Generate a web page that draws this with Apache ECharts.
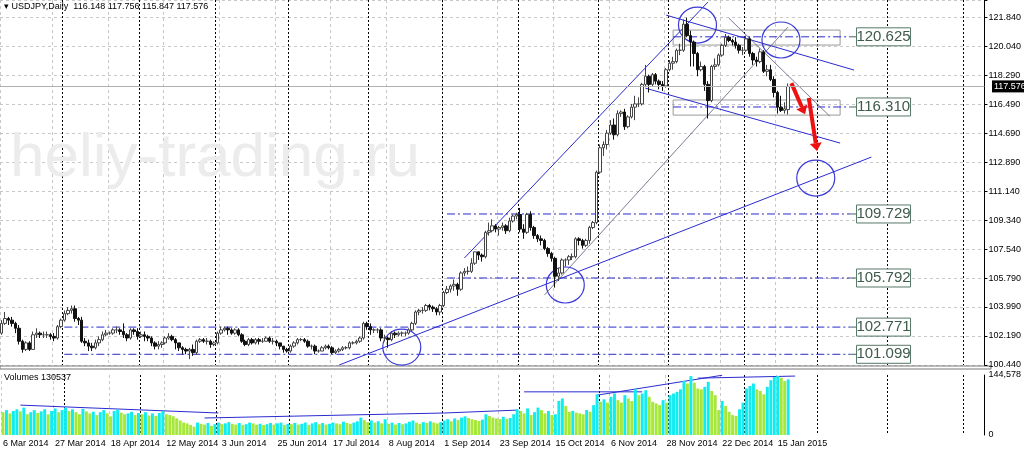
<!DOCTYPE html>
<html>
<head>
<meta charset="utf-8">
<script src="https://cdn.jsdelivr.net/npm/echarts@6/dist/echarts.min.js"></script>
<style>html,body{margin:0;padding:0;background:#fff}#main{width:1024px;height:453px}</style>
</head>
<body>
<div id="main"></div>
<script>
// OHLC rows [open, close, low, high], daily from 6 Mar 2014 to 20 Jan 2015
var candles = [
 [102.4,103.0,102.3,103.2],[103.0,103.3,102.9,103.7],
 [103.3,103.2,102.9,103.4],[103.2,103.0,102.8,103.4],[103.0,102.7,102.4,103.1],[102.7,101.9,101.7,102.9],[101.9,101.4,101.2,102.0],
 [101.4,101.8,101.3,101.9],[101.8,101.4,101.3,101.9],[101.4,102.3,101.4,102.5],[102.3,102.4,102.1,102.7],[102.4,102.3,102.1,102.5],
 [102.3,102.3,102.1,102.5],[102.3,102.3,102.1,102.5],[102.3,102.2,102.0,102.4],[102.2,102.1,101.9,102.4],[102.1,102.8,102.0,102.9],
 [102.8,103.2,102.7,103.3],
 [103.2,103.6,103.1,103.8],[103.6,103.8,103.5,104.0],[103.8,103.9,103.6,104.1],[103.9,103.3,103.1,104.1],
 [103.3,103.2,102.9,103.4],[103.2,101.9,101.8,103.4],[101.9,101.8,101.6,102.1],[101.8,101.6,101.3,102.0],[101.6,101.5,101.3,101.8],
 [101.5,101.8,101.4,102.0],[101.8,102.0,101.6,102.2],[102.0,102.3,101.9,102.5],[102.3,102.4,102.2,102.6],[102.4,102.4,102.3,102.5],
 [102.4,102.6,102.3,102.7],[102.6,102.6,102.4,102.8],[102.6,102.5,102.3,102.7],[102.5,102.3,102.1,103.0],[102.3,102.1,101.9,102.4],
 [102.1,102.6,102.0,102.7],[102.6,102.5,102.3,102.7],[102.5,102.2,102.0,102.7],
 [102.2,102.3,102.1,102.5],[102.3,102.2,101.9,102.5],
 [102.2,102.1,101.9,102.3],[102.1,101.8,101.6,102.2],[101.8,101.6,101.4,101.9],[101.6,101.7,101.4,101.9],[101.7,101.8,101.5,101.9],
 [101.8,102.1,101.7,102.2],[102.1,102.2,102.0,102.4],[102.2,102.0,101.9,102.3],[102.0,101.8,101.4,102.1],[101.8,101.5,101.3,101.8],
 [101.5,101.4,101.1,101.6],[101.4,101.3,101.1,101.5],[101.3,101.4,100.8,101.5],[101.4,101.2,101.0,101.7],[101.2,101.9,101.1,102.0],
 [101.9,102.0,101.8,102.1],[102.0,101.9,101.8,102.1],[101.9,101.9,101.7,102.1],[101.9,101.7,101.5,102.0],[101.7,101.8,101.6,101.9],
 [101.8,102.4,101.7,102.5],[102.4,102.6,102.3,102.8],[102.6,102.7,102.5,102.8],[102.7,102.6,102.3,102.8],[102.6,102.4,102.3,102.7],
 [102.4,102.6,102.3,102.7],[102.6,102.3,102.2,102.7],[102.3,101.9,101.8,102.4],[101.9,101.7,101.6,102.0],[101.7,102.0,101.6,102.1],
 [102.0,101.8,101.7,102.1],[101.8,102.0,101.7,102.1],[102.0,101.9,101.7,102.1],[101.9,101.9,101.8,102.1],[101.9,102.1,101.9,102.2],
 [102.1,101.9,101.8,102.2],[101.9,101.9,101.7,102.1],[101.9,101.8,101.6,102.0],[101.8,101.6,101.4,101.8],[101.6,101.4,101.2,101.6],
 [101.4,101.3,101.2,101.5],
 [101.3,101.6,101.2,101.7],[101.6,101.8,101.5,101.9],[101.8,102.0,101.7,102.1],[102.0,102.0,101.9,102.1],
 [102.0,101.9,101.8,102.1],[101.9,101.6,101.5,102.0],[101.6,101.6,101.4,101.7],[101.6,101.3,101.1,101.7],[101.3,101.3,101.2,101.4],
 [101.3,101.5,101.3,101.6],[101.5,101.6,101.4,101.7],[101.6,101.5,101.4,101.7],[101.5,101.2,101.1,101.6],[101.2,101.3,101.1,101.4],
 [101.3,101.4,101.2,101.5],[101.4,101.5,101.3,101.6],[101.5,101.5,101.4,101.6],[101.5,101.8,101.4,101.9],[101.8,101.8,101.7,101.9],
 [101.8,101.9,101.7,102.0],[101.9,102.1,101.8,102.2],[102.1,103.0,102.0,103.1],[103.0,102.8,102.6,103.1],
 [102.8,102.6,102.3,103.0],
 [102.6,102.6,102.4,102.7],[102.6,102.6,102.4,102.7],[102.6,102.1,101.9,102.7],[102.1,102.1,101.9,102.3],[102.1,102.0,101.5,102.2],
 [102.0,102.4,101.9,102.5],[102.4,102.3,102.1,102.5],[102.3,102.4,102.2,102.5],[102.4,102.4,102.2,102.5],[102.4,102.4,102.2,102.5],
 [102.4,102.6,102.3,102.7],[102.6,103.0,102.5,103.1],[103.0,103.7,102.9,103.8],[103.7,103.8,103.5,103.9],[103.8,103.8,103.6,104.0],
 [103.8,104.1,103.7,104.2],[104.1,104.0,103.8,104.2],[104.0,103.9,103.7,104.1],[103.9,103.7,103.5,104.0],[103.7,104.1,103.5,104.2],
 [104.1,104.9,104.0,105.0],[104.9,105.1,104.8,105.3],[105.1,105.3,104.9,105.4],[105.3,105.4,105.0,105.7],[105.4,105.1,104.7,105.5],
 [105.1,106.1,105.0,106.2],[106.1,106.2,105.9,106.4],[106.2,106.2,106.0,106.5],[106.2,106.7,106.1,107.0],[106.7,107.4,106.6,107.4],
 [107.4,107.2,106.9,107.4],[107.2,107.1,106.8,107.3],[107.1,108.6,107.0,108.7],[108.6,108.7,108.4,109.2],[108.7,109.0,108.6,109.4],
 [109.0,108.8,108.6,109.1],[108.8,108.9,108.4,109.0],[108.9,109.0,108.7,109.2],[109.0,108.7,108.5,109.1],[108.7,109.3,108.6,109.5],
 [109.3,109.6,109.2,109.7],[109.6,109.7,109.4,109.8],
 [109.7,108.8,108.6,110.1],[108.8,108.6,108.2,109.1],[108.6,109.7,108.5,109.8],
 [109.7,108.9,108.7,109.9],[108.9,108.4,108.2,109.0],[108.4,108.2,108.0,108.5],[108.2,108.1,107.8,108.4],[108.1,107.6,107.5,108.2],
 [107.6,107.3,107.1,107.7],[107.3,107.0,106.8,107.4],[107.0,105.9,105.2,107.1],[105.9,106.1,105.6,106.4],[106.1,106.9,106.0,107.0],
 [106.9,106.9,106.5,107.0],[106.9,107.1,106.6,107.2],[107.1,107.1,106.9,107.3],[107.1,108.2,107.0,108.3],[108.2,108.1,107.8,108.3],
 [108.1,107.8,107.6,108.2],[107.8,108.1,107.7,108.2],[108.1,108.9,107.9,109.0],[108.9,109.2,108.8,109.3],[109.2,112.3,109.1,112.4],
 [112.3,113.8,112.2,114.0],[113.8,114.0,113.3,114.2],[114.0,114.7,113.7,114.9],[114.7,115.2,114.6,115.5],[115.2,114.6,114.3,115.6],
 [114.6,115.9,114.5,116.1],[115.9,116.0,115.7,116.1],[116.0,115.1,114.9,116.2],[115.1,115.7,115.0,115.8],[115.7,116.3,115.6,116.5],
 [116.3,116.5,115.5,117.0],[116.5,116.5,116.3,116.9],[116.5,117.7,116.4,117.8],[117.7,118.2,117.6,118.9],[118.2,117.7,117.2,118.3],
 [117.7,118.3,117.6,118.4],[118.3,117.9,117.7,118.4],[117.9,117.7,117.4,118.0],[117.7,117.6,117.3,117.9],[117.6,118.6,117.5,118.7],
 [118.6,119.0,118.5,119.2],[119.0,119.1,118.6,119.4],[119.1,119.8,119.0,119.9],[119.8,119.8,119.5,120.2],[119.8,121.4,119.7,121.7],
 [121.4,120.7,120.6,121.8],[120.7,120.3,118.8,121.0],[120.3,119.6,118.8,120.4],[119.6,118.6,118.2,119.7],[118.6,118.8,118.5,119.1],
 [118.8,117.7,117.3,118.9],[117.7,116.7,115.6,117.9],[116.7,118.8,116.6,118.9],[118.8,118.9,118.6,119.3],[118.9,119.5,118.8,119.6],
 [119.5,120.1,119.4,120.2],[120.1,120.6,120.0,120.8],[120.6,120.4,120.3,120.7],[120.4,120.3,120.1,120.5],
 [120.3,120.1,119.9,120.6],[120.1,119.8,119.6,120.2],[119.8,119.8,119.5,120.0],[119.8,120.5,119.7,120.7],
 [120.5,119.6,119.4,120.6],[119.6,119.2,118.9,119.7],[119.2,119.1,118.8,119.4],[119.1,119.7,119.0,119.9],[119.7,118.5,118.4,119.8],
 [118.5,118.6,118.2,118.9],[118.6,118.0,117.9,118.9],[118.0,117.2,116.9,118.2],[117.2,116.3,115.9,117.3],[116.3,116.1,116.0,117.0],
 [116.1,116.2,115.9,116.6],[116.148,117.576,115.847,117.756]
];

// daily tick volumes, in thousands
var volumes = [
 55,60,52,58,62,57,66,50,55,60,53,57,62,50,58,64,55,60,
 66,58,62,55,50,63,57,52,56,48,55,60,52,45,58,61,54,50,52,56,48,53,
 50,55,47,52,46,53,58,50,48,45,40,35,30,28,24,20,30,27,25,29,22,26,
 30,26,28,31,27,25,29,24,26,30,28,25,27,24,26,29,25,28,30,24,27,
 26,29,25,27,30,24,28,31,26,29,25,27,30,28,26,32,29,27,30,33,42,36,31,
 35,30,33,28,38,27,30,25,29,26,28,32,35,30,27,31,29,33,30,28,31,
 35,38,33,40,36,42,45,41,38,36,34,37,50,46,42,40,38,44,39,41,50,62,
 58,52,64,48,55,66,60,52,58,48,50,82,88,70,56,58,54,52,50,60,56,72,98,
 80,86,78,92,100,84,78,96,88,82,110,96,100,108,92,80,76,72,84,78,
 96,100,104,110,130,124,142,126,112,110,116,128,106,96,60,82,70,56,48,46,62,78,
 112,118,124,110,106,98,116,132,140,142,138,130,134
];

var priceTicks = ['100.440','102.190','103.990','105.790','107.540','109.340','111.140','112.890','114.690','116.490','118.290','120.040','121.840'];
var dateLabels = ['6 Mar 2014','27 Mar 2014','18 Apr 2014','12 May 2014','3 Jun 2014','25 Jun 2014','17 Jul 2014','8 Aug 2014',
 '1 Sep 2014','23 Sep 2014','15 Oct 2014','6 Nov 2014','28 Nov 2014','22 Dec 2014','15 Jan 2015'];
var levels = [120.625, 116.310, 109.729, 105.792, 102.771, 101.099];
var levelStart = [193, 193, 128, 128, 18.4, 18.4];
var lastPrice = 117.576;

// trend lines [[i, price], [i, price]]
var trendLines = [
 [[96.6,100.44],[250.4,113.23]],
 [[132.9,107.02],[203.2,122.76]],
 [[185.2,117.47],[240.9,114.09]],
 [[190.9,121.96],[245.2,118.58]]
];
var thinLines = [
 [[155.8,104.74],[225.8,121.22]],
 [[208.9,121.78],[238.1,115.75]]
];
var circles = [[199.5,121.35],[223.8,120.43],[234.4,111.94],[161.8,105.36],[114.6,101.54]];
var arrows = [[[226.6,117.78],[229.5,116.31]],[[231.5,116.86],[234.4,114.09]]];
var volLines = [
 [[5.2,72],[62.4,53]],[[58,41],[127.2,53]],[[127.2,53],[148.1,60]],
 [[150,104],[183.8,104]],[[171,96],[207.2,144]],[[199.5,137],[227.5,142]]
];

var MON = ['Jan','Feb','Mar','Apr','May','Jun','Jul','Aug','Sep','Oct','Nov','Dec'];
var dates = [], monthStart = {};
var d = new Date(Date.UTC(2014, 2, 6)), prevMonth = 2;
while (dates.length < 283) {
  var wd = d.getUTCDay(), m = d.getUTCMonth(), dd = d.getUTCDate();
  var holiday = (m === 11 && dd === 25) || (m === 0 && dd === 1);
  if (wd !== 0 && wd !== 6 && !holiday) {
    if (m !== prevMonth) { monthStart[dates.length] = true; prevMonth = m; }
    dates.push(dd + ' ' + MON[m] + ' ' + d.getUTCFullYear());
  }
  d = new Date(d.getTime() + 86400000);
}
var isLabel = function(idx){ return dateLabels.indexOf(dates[idx]) >= 0; };
var isMonth = function(idx){ return !!monthStart[idx]; };

var volData = volumes.map(function(v, i){
  return {value: v * 1000, itemStyle: {color: (i > 0 && v > volumes[i-1]) ? '#10ecf0' : '#a6e83a'}};
});

var font = 'Liberation Sans';
var chart = echarts.init(document.getElementById('main'));
var xBase = {type: 'category', data: dates, boundaryGap: true, axisLine: {show: false}, axisTick: {show: false}};
chart.setOption({
  animation: false,
  grid: [
    {left: 0, right: 33, top: 0, height: 365},
    {left: 0, right: 33, top: 375, height: 60}
  ],
  xAxis: [
    Object.assign({}, xBase, {gridIndex: 0, axisLabel: {show: false},
      splitLine: {show: true, interval: function(i){ return isLabel(i); }, lineStyle: {color: '#c8c8c8', type: [3, 3]}}}),
    Object.assign({}, xBase, {gridIndex: 0, axisLabel: {show: false},
      splitLine: {show: true, interval: function(i){ return isMonth(i); }, lineStyle: {color: '#000', type: [2, 2]}}}),
    Object.assign({}, xBase, {gridIndex: 1,
      axisLabel: {show: true, interval: function(i){ return isLabel(i); }, align: 'left', margin: 4,
        fontSize: 9, color: '#000', fontFamily: font},
      splitLine: {show: true, interval: function(i){ return isLabel(i); }, lineStyle: {color: '#c8c8c8', type: [3, 3]}}}),
    Object.assign({}, xBase, {gridIndex: 1, axisLabel: {show: false},
      splitLine: {show: true, interval: function(i){ return isMonth(i); }, lineStyle: {color: '#000', type: [2, 2]}}})
  ],
  yAxis: [
    {type: 'value', gridIndex: 0, position: 'right', min: 100.44, max: 122.89, interval: 1.78333,
      axisLine: {show: true, lineStyle: {color: '#000'}}, axisTick: {show: true, length: 3, lineStyle: {color: '#000'}},
      axisLabel: {fontSize: 9, color: '#000', margin: 4, fontFamily: font, formatter: function(v){
        var k = Math.round((v - 100.44) / 1.78333);
        return (Math.abs(v - 100.44 - k * 1.78333) < 0.05 && priceTicks[k]) ? priceTicks[k] : '';
      }},
      splitLine: {show: true, lineStyle: {color: '#c8c8c8', type: [3, 3]}}},
    {type: 'value', gridIndex: 1, position: 'right', min: 0, max: 144578, interval: 144578,
      axisLine: {show: true, lineStyle: {color: '#000'}}, axisTick: {show: false},
      axisLabel: {fontSize: 9, color: '#000', margin: 4, fontFamily: font},
      splitLine: {show: false}}
  ],
  series: [
    {type: 'candlestick', xAxisIndex: 0, yAxisIndex: 0, data: candles, barWidth: 3,
      itemStyle: {color: '#fff', color0: '#111', borderColor: '#444', borderColor0: '#111', borderWidth: 1},
      markLine: {silent: true, symbol: 'none', label: {show: false},
        data: [{yAxis: lastPrice, lineStyle: {color: '#b0b0b0', type: 'solid', width: 1}}]}},
    {type: 'bar', xAxisIndex: 2, yAxisIndex: 1, data: volData, barCategoryGap: '15%'}
  ]
});

// annotations drawn through the axes' own conversion
var toPx = function(p){ return chart.convertToPixel({xAxisIndex: 0, yAxisIndex: 0}, p); };
var toVol = function(p){ return chart.convertToPixel({xAxisIndex: 2, yAxisIndex: 1}, [p[0], p[1] * 1000]); };
var g = [];
g.push({type: 'text', left: 10, top: 128, z: 0, style: {text: 'heliy-trading.ru', fontSize: 62, fill: '#ececec', fontFamily: font}});
g.push({type: 'text', left: 4, top: 2, style: {text: '\u25BE USDJPY,Daily  116.148 117.756 115.847 117.576', fontSize: 9, fill: '#000', fontFamily: font}});
g.push({type: 'rect', shape: {x: 0, y: 366, width: 991, height: 3}, style: {fill: '#fff', stroke: '#777', lineWidth: 1}});
g.push({type: 'text', left: 4, top: 373, style: {text: 'Volumes 130537', fontSize: 9, fill: '#000', fontFamily: font}});
// gray boxes around top/bottom levels
[[121.04,120.12],[116.74,115.81]].forEach(function(b){
  var a = toPx([193, b[0]]), c = toPx([241, b[1]]);
  g.push({type: 'rect', shape: {x: a[0], y: a[1], width: c[0] - a[0], height: c[1] - a[1]}, style: {fill: 'none', stroke: '#999', lineWidth: 1}});
});
levels.forEach(function(lv, k){
  var a = toPx([levelStart[k], lv]), b = toPx([243.8, lv]);
  g.push({type: 'line', shape: {x1: a[0], y1: a[1], x2: b[0], y2: b[1]}, style: {stroke: '#2a2ad0', lineWidth: 1, lineDash: [8, 3, 2, 3]}});
  g.push({type: 'line', shape: {x1: b[0], y1: b[1], x2: b[0] + 6, y2: b[1]}, style: {stroke: '#446655', lineWidth: 1}});
  g.push({type: 'rect', shape: {x: b[0] + 6, y: b[1] - 9, width: 54, height: 18}, style: {fill: '#fff', stroke: '#557766', lineWidth: 1}});
  g.push({type: 'text', x: b[0] + 33, y: b[1], style: {text: lv.toFixed(3), fontSize: 15, fill: '#3f5a4c', fontFamily: font, align: 'center', verticalAlign: 'middle'}});
});
trendLines.forEach(function(l){
  var a = toPx(l[0]), b = toPx(l[1]);
  g.push({type: 'line', shape: {x1: a[0], y1: a[1], x2: b[0], y2: b[1]}, style: {stroke: '#2a2ad0', lineWidth: 1}});
});
thinLines.forEach(function(l){
  var a = toPx(l[0]), b = toPx(l[1]);
  g.push({type: 'line', shape: {x1: a[0], y1: a[1], x2: b[0], y2: b[1]}, style: {stroke: '#5a5a7a', lineWidth: 0.8}});
});
circles.forEach(function(c){
  var p = toPx(c);
  g.push({type: 'ellipse', shape: {cx: p[0], cy: p[1], rx: 19, ry: 18}, style: {fill: 'none', stroke: '#3a3ad8', lineWidth: 1.2}});
});
arrows.forEach(function(l){
  var a = toPx(l[0]), b = toPx(l[1]);
  var ang = Math.atan2(b[1] - a[1], b[0] - a[0]);
  g.push({type: 'line', shape: {x1: a[0], y1: a[1], x2: b[0], y2: b[1]}, style: {stroke: '#ee1111', lineWidth: 4}});
  g.push({type: 'polygon', shape: {points: [
    [b[0] + 8 * Math.cos(ang), b[1] + 8 * Math.sin(ang)],
    [b[0] + 6 * Math.cos(ang + Math.PI / 2), b[1] + 6 * Math.sin(ang + Math.PI / 2)],
    [b[0] + 6 * Math.cos(ang - Math.PI / 2), b[1] + 6 * Math.sin(ang - Math.PI / 2)]
  ]}, style: {fill: '#ee1111'}});
});
volLines.forEach(function(l){
  var a = toVol(l[0]), b = toVol(l[1]);
  g.push({type: 'line', shape: {x1: a[0], y1: a[1], x2: b[0], y2: b[1]}, style: {stroke: '#2a2ad0', lineWidth: 1}});
});
var lp = toPx([0, lastPrice]);
g.push({type: 'rect', shape: {x: 992, y: lp[1] - 6, width: 32, height: 12}, style: {fill: '#000'}});
g.push({type: 'text', x: 994, y: lp[1], style: {text: lastPrice.toFixed(3), fontSize: 9, fill: '#fff', fontFamily: font, verticalAlign: 'middle'}});
chart.setOption({graphic: g});
</script>
</body>
</html>
